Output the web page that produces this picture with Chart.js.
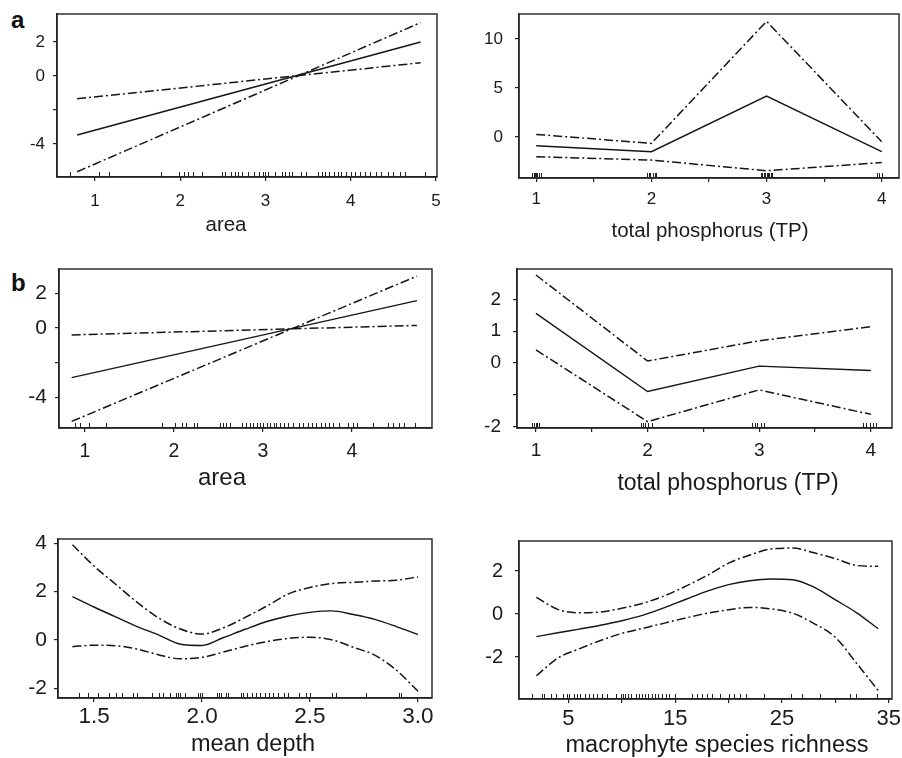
<!DOCTYPE html>
<html>
<head>
<meta charset="utf-8">
<script src="https://cdn.jsdelivr.net/npm/chart.js@4.4.0/dist/chart.umd.min.js"></script>
<style>
html, body { margin: 0; padding: 0; background: #fff; }
body { width: 902px; height: 758px; position: relative; overflow: hidden; font-family: "Liberation Sans", Arial, sans-serif; }
canvas { position: absolute; }
.tag { position: absolute; font-weight: bold; font-size: 24px; line-height: 24px; color: #111; }
</style>
</head>
<body>
<div class="tag" style="left:11px;top:8px">a</div>
<div class="tag" style="left:11px;top:271px">b</div>
<canvas id="c1" width="451" height="245" style="left:0;top:0"></canvas>
<canvas id="c2" width="451" height="245" style="left:451px;top:0"></canvas>
<canvas id="c3" width="451" height="255" style="left:0;top:245px"></canvas>
<canvas id="c4" width="451" height="255" style="left:451px;top:245px"></canvas>
<canvas id="c5" width="451" height="258" style="left:0;top:500px"></canvas>
<canvas id="c6" width="451" height="258" style="left:451px;top:500px"></canvas>
<script>
// ---- data ----

// (a) area
const areaTopX = [0.79, 4.82];
const areaTopFit = [-3.47, 2.00];
const areaTopBandA = [-1.34, 0.78];
const areaTopBandB = [-5.63, 3.14];
const areaTopRug = [0.71, 1.05, 1.16, 1.77, 1.98, 2.04, 2.09, 2.15, 2.25, 2.49, 2.52, 2.60, 2.64, 2.68, 2.72, 2.80, 2.86, 2.92, 2.97, 3.00, 3.03, 3.11, 3.19, 3.23, 3.27, 3.31, 3.42, 3.47, 3.62, 3.66, 3.70, 3.74, 3.80, 3.85, 3.89, 3.95, 4.00, 4.05, 4.11, 4.17, 4.23, 4.30, 4.36, 4.44, 4.50, 4.58, 4.64, 4.87];

// (a) total phosphorus
const tpTopX = [1, 2, 3, 4];
const tpTopFit = [-0.89, -1.50, 4.18, -1.50];
const tpTopUpper = [0.27, -0.65, 11.8, -0.48];
const tpTopLower = [-2.00, -2.35, -3.44, -2.60];
const tpTopRug = [0.96, 0.98, 0.99, 1.00, 1.01, 1.02, 1.04, 1.96, 1.98, 1.99, 2.01, 2.03, 2.04, 2.95, 2.96, 2.98, 2.99, 3.00, 3.01, 3.02, 3.04, 3.05, 3.96, 3.98, 4.00];

// (b) area
const areaMidX = [0.85, 4.73];
const areaMidFit = [-2.87, 1.58];
const areaMidBandA = [-0.40, 0.15];
const areaMidBandB = [-5.40, 3.00];
const areaMidRug = [0.89, 0.94, 1.04, 1.24, 1.86, 2.01, 2.09, 2.14, 2.22, 2.26, 2.52, 2.55, 2.59, 2.63, 2.76, 2.81, 2.85, 2.89, 2.93, 2.97, 3.00, 3.04, 3.08, 3.12, 3.15, 3.19, 3.24, 3.28, 3.34, 3.40, 3.45, 3.51, 3.55, 3.60, 3.65, 3.70, 3.74, 3.79, 3.85, 3.96, 4.01, 4.06, 4.24, 4.41, 4.46, 4.53, 4.58, 4.71];

// (b) total phosphorus
const tpMidX = [1, 2, 3, 4];
const tpMidFit = [1.56, -0.90, -0.10, -0.24];
const tpMidUpper = [2.77, 0.06, 0.70, 1.14];
const tpMidLower = [0.41, -1.85, -0.85, -1.62];
const tpMidRug = [0.96, 0.98, 1.00, 1.01, 1.03, 1.94, 1.96, 1.98, 2.00, 2.04, 2.94, 2.96, 2.98, 3.02, 3.04, 3.93, 3.96, 3.99, 4.02, 4.05];

// (b) mean depth
const depthX = [1.40, 1.50, 1.60, 1.70, 1.80, 1.90, 2.00, 2.10, 2.20, 2.30, 2.40, 2.50, 2.60, 2.70, 2.80, 2.90, 3.00];
const depthFit = [1.79, 1.36, 0.95, 0.55, 0.20, -0.18, -0.23, 0.10, 0.44, 0.76, 0.99, 1.14, 1.20, 1.05, 0.85, 0.55, 0.22];
const depthUpper = [3.93, 3.05, 2.30, 1.55, 0.90, 0.45, 0.24, 0.50, 0.93, 1.40, 1.90, 2.17, 2.33, 2.38, 2.43, 2.47, 2.60];
const depthLower = [-0.28, -0.22, -0.24, -0.38, -0.62, -0.78, -0.72, -0.50, -0.26, -0.07, 0.06, 0.11, 0.01, -0.30, -0.63, -1.25, -2.12];
const depthRug = [1.43, 1.47, 1.52, 1.57, 1.60, 1.63, 1.68, 1.70, 1.77, 1.80, 1.82, 1.85, 1.88, 1.89, 1.90, 1.92, 1.98, 1.99, 2.00, 2.07, 2.08, 2.09, 2.11, 2.12, 2.18, 2.19, 2.21, 2.23, 2.25, 2.27, 2.29, 2.31, 2.33, 2.35, 2.38, 2.40, 2.45, 2.48, 2.50, 2.60, 2.62, 2.76, 2.91, 2.92];

// (b) macrophyte species richness
const richX = [2, 4, 6, 8, 10, 12, 14, 16, 18, 20, 22, 24, 26, 28, 30, 32, 34];
const richFit = [-1.05, -0.87, -0.70, -0.52, -0.31, -0.05, 0.30, 0.69, 1.07, 1.37, 1.55, 1.63, 1.60, 1.25, 0.66, 0.06, -0.68];
const richUpper = [0.78, 0.22, 0.06, 0.10, 0.27, 0.51, 0.85, 1.30, 1.80, 2.37, 2.75, 3.03, 3.07, 2.85, 2.58, 2.26, 2.22];
const richLower = [-2.87, -2.05, -1.62, -1.23, -0.90, -0.66, -0.42, -0.18, 0.04, 0.20, 0.31, 0.24, 0.04, -0.44, -1.08, -2.30, -3.55];
const richRug = [1.6, 2.5, 2.7, 3.4, 3.8, 4.5, 4.9, 5.1, 5.5, 5.8, 6.1, 6.6, 6.9, 7.3, 7.7, 8.1, 8.6, 9.5, 9.9, 10.1, 10.3, 10.6, 10.9, 11.3, 11.6, 11.9, 12.2, 12.5, 12.8, 13.1, 13.4, 13.8, 14.1, 14.4, 15.0, 16.6, 17.0, 17.5, 18.0, 18.4, 19.2, 20.0, 20.5, 21.1, 21.6, 23.3, 25.8, 26.9, 28.6, 31.4, 31.9, 33.9];

// ---- drawing ----
const FONT = "'Liberation Sans', Arial, sans-serif";
Chart.defaults.font.family = FONT;
Chart.defaults.color = '#1a1a1a';

function xy(xs, ys)
{
    return xs.map((x, i) => ({x: x, y: ys[i]}));
}

function LineSet(xs, ys, dashed, smooth)
{
    return {
        data: xy(xs, ys),
        borderColor: '#151515',
        borderWidth: dashed ? 1.5 : 1.4,
        borderDash: dashed ? [9, 3, 2, 3] : [],
        pointRadius: 0,
        fill: false,
        tension: smooth ? 0.4 : 0,
        cubicInterpolationMode: smooth ? 'monotone' : 'default',
    };
}

// frame box, rug marks and axis title
const framePlugin = {
    id: 'frame',
    afterDatasetsDraw(chart, args, opts)
    {
        const {ctx, chartArea: a} = chart;
        const xs = chart.scales.x;
        ctx.save();
        ctx.strokeStyle = '#222';
        ctx.lineWidth = 1.4;
        ctx.strokeRect(a.left, a.top, a.right - a.left, a.bottom - a.top);

        ctx.lineWidth = 1;
        ctx.beginPath();
        opts.rug.forEach(v => {
            const px = Math.round(xs.getPixelForValue(v)) + 0.5;
            ctx.moveTo(px, a.bottom);
            ctx.lineTo(px, a.bottom - 5);
        });
        ctx.stroke();

        ctx.fillStyle = '#1a1a1a';
        ctx.font = opts.titleSize + 'px ' + FONT;
        ctx.textAlign = 'center';
        ctx.textBaseline = 'alphabetic';
        ctx.fillText(opts.title, opts.titleX, opts.titleY);
        ctx.restore();
    }
};

function CreatePanel(canvasId, p)
{
    new Chart(document.getElementById(canvasId), {
        type: 'line',
        data: { datasets: p.series },
        options: {
            responsive: false,
            animation: false,
            layout: { autoPadding: false, padding: { left: 0, top: p.padTop, right: p.padRight, bottom: 0 } },
            plugins: {
                legend: { display: false },
                tooltip: { enabled: false },
                frame: { rug: p.rug, title: p.title, titleX: p.titleX, titleY: p.titleY, titleSize: p.titleSize },
            },
            scales: {
                x: {
                    type: 'linear',
                    min: p.xMin,
                    max: p.xMax,
                    afterFit: s => { s.height = p.xAxisHeight; s.paddingLeft = 0; s.paddingRight = 0; },
                    ticks: {
                        stepSize: p.xStep,
                        includeBounds: false,
                        autoSkip: false,
                        maxRotation: 0,
                        padding: p.xPad,
                        font: { size: p.xFont },
                        color: '#1a1a1a',
                        callback: p.xLabel,
                    },
                    grid: { drawOnChartArea: false, tickLength: 4, color: '#222', lineWidth: 1.2 },
                    border: { color: '#222', width: 1.4 },
                },
                y: {
                    min: p.yMin,
                    max: p.yMax,
                    afterFit: s => { s.width = p.yAxisWidth; s.paddingTop = 0; s.paddingBottom = 0; },
                    ticks: {
                        stepSize: p.yStep,
                        includeBounds: false,
                        padding: p.yPad,
                        font: { size: p.yFont },
                        color: '#1a1a1a',
                        callback: p.yLabel,
                    },
                    grid: { drawOnChartArea: false, tickLength: 4, color: '#222', lineWidth: 1.2 },
                    border: { color: '#222', width: 1.4 },
                },
            },
        },
        plugins: [framePlugin],
    });
}

const plain = v => String(v);
const hideMinus2 = v => (v === -2 ? '' : String(v));
const intOnly = v => (Number.isInteger(v) ? String(v) : '');

CreatePanel('c1', {
    series: [LineSet(areaTopX, areaTopFit, false), LineSet(areaTopX, areaTopBandA, true), LineSet(areaTopX, areaTopBandB, true)],
    rug: areaTopRug,
    xMin: 0.554, xMax: 5.012, xStep: 1, xLabel: plain, xFont: 17, xPad: 10,
    yMin: -5.94, yMax: 3.647, yStep: 2, yLabel: hideMinus2, yFont: 17, yPad: 8,
    yAxisWidth: 57, xAxisHeight: 68, padTop: 14, padRight: 14,
    title: 'area', titleX: 226, titleY: 231, titleSize: 20.5,
});

CreatePanel('c2', {
    series: [LineSet(tpTopX, tpTopFit, false), LineSet(tpTopX, tpTopUpper, true), LineSet(tpTopX, tpTopLower, true)],
    rug: tpTopRug,
    xMin: 0.85, xMax: 4.15, xStep: 0.5, xLabel: intOnly, xFont: 17, xPad: 7,
    yMin: -4.18, yMax: 12.55, yStep: 5, yLabel: plain, yFont: 17, yPad: 12,
    yAxisWidth: 68, xAxisHeight: 67, padTop: 14, padRight: 3,
    title: 'total phosphorus (TP)', titleX: 259, titleY: 237, titleSize: 20.5,
});

CreatePanel('c3', {
    series: [LineSet(areaMidX, areaMidFit, false), LineSet(areaMidX, areaMidBandA, true), LineSet(areaMidX, areaMidBandB, true)],
    rug: areaMidRug,
    xMin: 0.708, xMax: 4.899, xStep: 1, xLabel: plain, xFont: 19.5, xPad: 7.5,
    yMin: -5.78, yMax: 3.41, yStep: 2, yLabel: hideMinus2, yFont: 21, yPad: 8,
    yAxisWidth: 59, xAxisHeight: 72, padTop: 24, padRight: 19,
    title: 'area', titleX: 222, titleY: 240, titleSize: 24,
});

CreatePanel('c4', {
    series: [LineSet(tpMidX, tpMidFit, false), LineSet(tpMidX, tpMidUpper, true), LineSet(tpMidX, tpMidLower, true)],
    rug: tpMidRug,
    xMin: 0.83, xMax: 4.19, xStep: 0.5, xLabel: intOnly, xFont: 19, xPad: 7.5,
    yMin: -2.05, yMax: 2.96, yStep: 1, yLabel: v => (v === -1 ? '' : String(v)), yFont: 19, yPad: 12,
    yAxisWidth: 66, xAxisHeight: 72, padTop: 24, padRight: 10,
    title: 'total phosphorus (TP)', titleX: 277, titleY: 245, titleSize: 23,
});

CreatePanel('c5', {
    series: [LineSet(depthX, depthFit, false, true), LineSet(depthX, depthUpper, true, true), LineSet(depthX, depthLower, true, true)],
    rug: depthRug,
    xMin: 1.333, xMax: 3.065, xStep: 0.5, xLabel: v => v.toFixed(1), xFont: 22.5, xPad: 1,
    yMin: -2.40, yMax: 4.17, yStep: 2, yLabel: plain, yFont: 21, yPad: 7,
    yAxisWidth: 58, xAxisHeight: 60, padTop: 39, padRight: 19,
    title: 'mean depth', titleX: 253, titleY: 251, titleSize: 23.5,
});

CreatePanel('c6', {
    series: [LineSet(richX, richFit, false, true), LineSet(richX, richUpper, true, true), LineSet(richX, richLower, true, true)],
    rug: richRug,
    xMin: 0.375, xMax: 35.3, xStep: 5, xLabel: v => ((v - 5) % 10 === 0 ? String(v) : ''), xFont: 22, xPad: 2.5,
    yMin: -3.95, yMax: 3.40, yStep: 2, yLabel: plain, yFont: 20, yPad: 12,
    yAxisWidth: 68, xAxisHeight: 59, padTop: 41, padRight: 10,
    title: 'macrophyte species richness', titleX: 266, titleY: 252, titleSize: 23.5,
});
</script>
</body>
</html>
